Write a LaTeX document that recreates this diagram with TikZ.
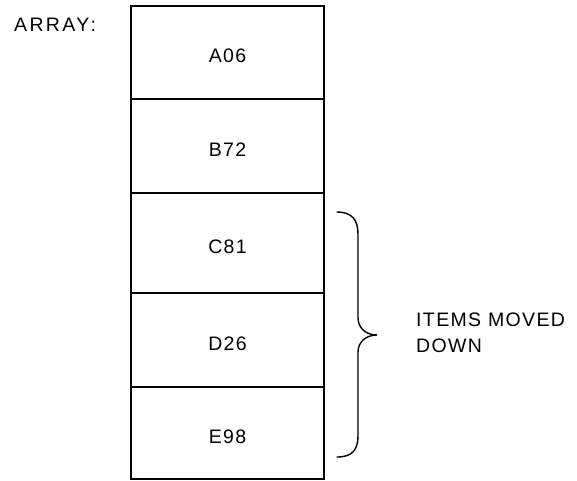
\documentclass[tikz,border=0pt]{standalone}
\usepackage{fontspec}
\setmainfont{Liberation Sans}[LetterSpace=7]
\begin{document}
\begin{tikzpicture}[x=1pt,y=-1pt,
  cell/.style={draw=black,line width=1.5pt,rectangle,inner sep=0pt,minimum width=193pt,
    text height=20pt,text depth=0pt,
    font=\fontsize{19.5}{26}\selectfont},
  lbl/.style={inner sep=0pt,font=\fontsize{19.5}{26}\selectfont}]
\useasboundingbox (0,0) rectangle (577,480);
\node[cell,minimum height=93pt] (a) at (227.5,52.5) {A06};
\node[cell,minimum height=94pt] (b) at (227.5,146) {B72};
\node[cell,minimum height=100pt] (c) at (227.5,243) {C81};
\node[cell,minimum height=94pt] (d) at (227.5,340) {D26};
\node[cell,minimum height=92pt] (e) at (227.5,433) {E98};
\node[lbl,anchor=west] (arr) at (14,25) {\addfontfeature{LetterSpace=12}ARRAY:};
\node[lbl,anchor=west,align=left] (items) at (416,333) {ITEMS MOVED\\DOWN};
\draw[line width=1.4pt,line cap=round]
  (337,212) .. controls (352,212) and (358,220) .. (358,234)
  -- (358,318) .. controls (358,328) and (366,335) .. (377,335)
  .. controls (366,335) and (358,342) .. (358,352)
  -- (358,436) .. controls (358,450) and (352,457) .. (337,457);
\end{tikzpicture}
\end{document}
